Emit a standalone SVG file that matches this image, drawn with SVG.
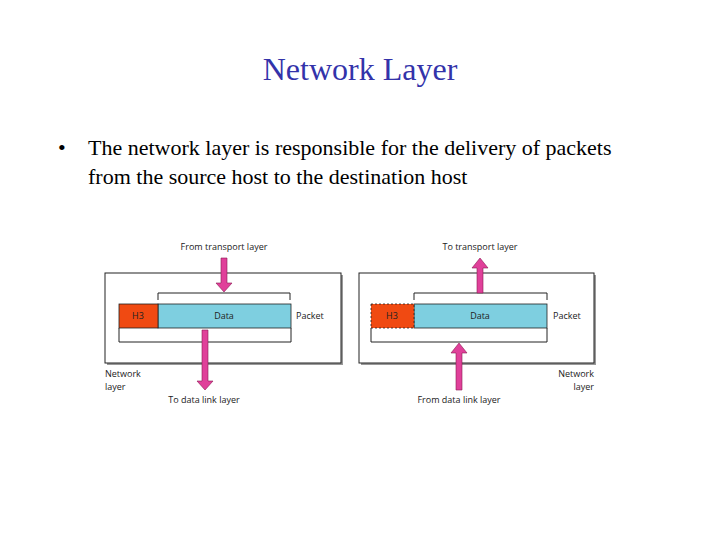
<svg xmlns="http://www.w3.org/2000/svg" width="720" height="540" viewBox="0 0 720 540">
<style>
.t{font-family:"Liberation Serif",serif}
.s{font-family:"Open Sans","Liberation Sans",sans-serif;font-size:9px;fill:#222}
.box{fill:#fff;stroke:#222;stroke-width:1}
.sh{fill:#999}
.br{fill:none;stroke:#222;stroke-width:1}
.data{fill:#7ecfe0;stroke:#222;stroke-width:0.8}
.h3{fill:#f04a12;stroke:#222;stroke-width:0.8}
.ar{fill:#e0409a;stroke:#8a1a50;stroke-width:0.6}
</style>
<rect width="720" height="540" fill="#fff"/>
<text class="t" x="360" y="80" text-anchor="middle" font-size="32" fill="#3333aa">Network Layer</text>
<text class="t" x="58" y="155" font-size="22" fill="#000">•</text>
<text class="t" x="88" y="155" font-size="22" fill="#000">The network layer is responsible for the delivery of packets</text>
<text class="t" x="88" y="184" font-size="22" fill="#000">from the source host to the destination host</text>
<g id="left">
<rect class="sh" x="107" y="275" width="236" height="90"/>
<rect class="box" x="105" y="273" width="236" height="90"/>
<path class="br" d="M158 300V293H290V300"/>
<path class="br" d="M119 328V342H291V328"/>
<rect class="data" x="158" y="304" width="133" height="24"/>
<rect class="h3" x="119" y="304" width="39" height="24"/>
<text class="s" x="138" y="319" text-anchor="middle" fill="#fff">H3</text>
<text class="s" x="224" y="319" text-anchor="middle">Data</text>
<text class="s" x="296" y="319">Packet</text>
<text class="s" x="224" y="250" text-anchor="middle">From transport layer</text>
<text class="s" x="105" y="377">Network</text>
<text class="s" x="105" y="390">layer</text>
<text class="s" x="204" y="403" text-anchor="middle">To data link layer</text>
</g>
<g id="right">
<rect class="sh" x="361" y="275" width="235" height="90"/>
<rect class="box" x="359" y="273" width="235" height="90"/>
<path class="br" d="M414 300V293H547V300"/>
<path class="br" d="M371 328V342H547V328"/>
<rect class="data" x="414" y="304" width="133" height="24"/>
<rect class="h3" x="371" y="304" width="43" height="24" stroke-dasharray="2 2"/>
<text class="s" x="392" y="319" text-anchor="middle" fill="#fff">H3</text>
<text class="s" x="480" y="319" text-anchor="middle">Data</text>
<text class="s" x="553" y="319">Packet</text>
<text class="s" x="480" y="250" text-anchor="middle">To transport layer</text>
<text class="s" x="594" y="377" text-anchor="end">Network</text>
<text class="s" x="594" y="390" text-anchor="end">layer</text>
<text class="s" x="459" y="403" text-anchor="middle">From data link layer</text>
</g>
<g id="connectors">
<path class="ar" d="M221 258H227V283H232L224 292L216 283H221Z"/>
<path class="ar" d="M202 330H208V381H213L205 390L197 381H202Z"/>
<path class="ar" d="M477 293H483V268H488L480 258L472 268H477Z"/>
<path class="ar" d="M456 390H462V353H467L459 343L451 353H456Z"/>
</g>
</svg>
